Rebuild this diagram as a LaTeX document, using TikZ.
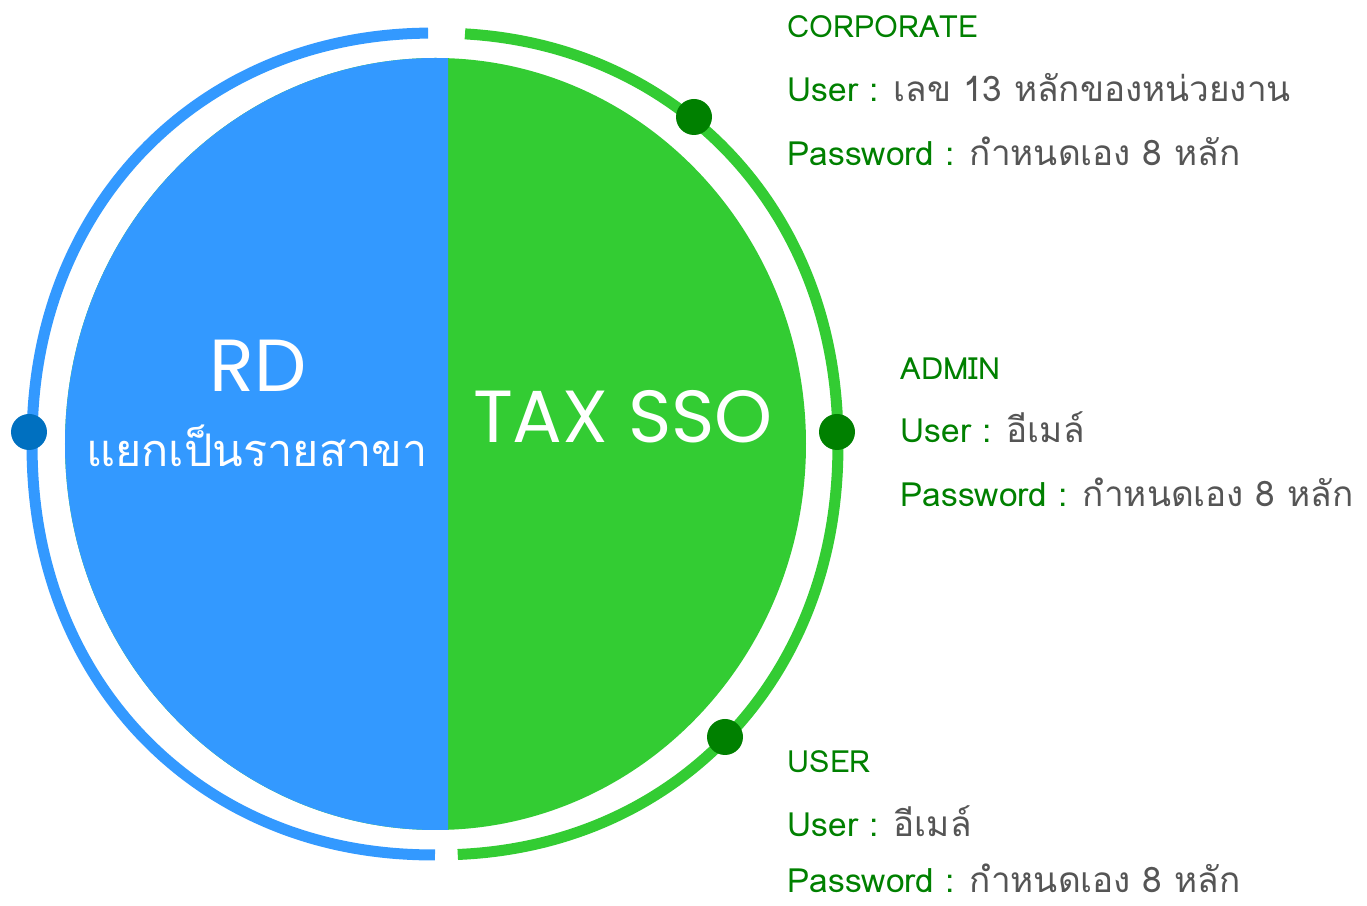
\documentclass[tikz,border=0pt]{standalone}
\usepackage{fontspec}
\setmainfont[Script=Thai]{Loma}
\newfontfamily\headfont{Poppins}
\usetikzlibrary{calc}
\definecolor{rdblue}{HTML}{3399FF}
\definecolor{ssogreen}{HTML}{33CC33}
\definecolor{dotblue}{HTML}{0070C0}
\definecolor{dotgreen}{HTML}{008000}
\definecolor{lblgreen}{HTML}{008000}
\definecolor{txtgray}{HTML}{555555}
\newcommand{\keytxt}[1]{\textcolor{lblgreen}{#1}}
\newcommand{\valtxt}[1]{\textcolor{txtgray}{\fontsize{10}{12}\selectfont #1}}

\begin{document}
\begin{tikzpicture}
   \tikzstyle{ringdot}=[circle, inner sep=0pt, minimum size=0.36cm]
   \tikzstyle{ring}=[line width=0.11cm]
   \tikzstyle{head}=[text=white, font=\headfont\fontsize{21}{24}\selectfont]
   \tikzstyle{lbl}=[anchor=base west, inner sep=0pt, font=\fontsize{9.5}{11}\selectfont]
   \tikzstyle{role}=[anchor=base west, inner sep=0pt, text=lblgreen, font=\fontsize{8.7}{10}\selectfont]
   \useasboundingbox (0, 0) rectangle (13.67, 9.06);

   % inner disc
   \fill[ssogreen] (4.355, 4.62) ellipse [x radius=3.705, y radius=3.86];
   \begin{scope}
      \clip (0, 0) rectangle (4.48, 9.06);
      \fill[rdblue] (4.355, 4.62) ellipse [x radius=3.705, y radius=3.86];
   \end{scope}

   % outer ring
   \draw[ring, rdblue] plot[domain=90.8:270, samples=100, smooth]
      ({4.35+4.03*cos(\x)*(abs(cos(\x))+0.0001)^(-0.048)}, {4.62+4.11*sin(\x)*(abs(sin(\x))+0.0001)^(-0.048)});
   \draw[ring, ssogreen] plot[domain=-87.2:86.25, samples=100, smooth]
      ({4.35+4.03*cos(\x)*(abs(cos(\x))+0.0001)^(-0.048)}, {4.62+4.11*sin(\x)*(abs(sin(\x))+0.0001)^(-0.048)});

   % ring dots
   \draw (0.29, 4.74) node[ringdot, fill=dotblue] (drd) {};
   \draw (6.94, 7.89) node[ringdot, fill=dotgreen] (dcorp) {};
   \draw (8.37, 4.74) node[ringdot, fill=dotgreen] (dadmin) {};
   \draw (7.25, 1.69) node[ringdot, fill=dotgreen] (duser) {};

   % disc texts
   \draw (2.58, 5.40) node[head] (rd) {RD};
   \draw (2.57, 4.39) node[anchor=base, text=white, font=\fontsize{12.8}{15}\selectfont] (rdsub) {แยกเป็นรายสาขา};
   \draw (6.23, 4.89) node[head] (taxsso) {TAX SSO};

   % CORPORATE
   \draw (7.87, 8.68) node[role] (corp) {CORPORATE};
   \draw (7.87, 8.04) node[lbl] (corpuser) {\keytxt{User :} \valtxt{เลข 13 หลักของหน่วยงาน}};
   \draw (7.87, 7.40) node[lbl] (corppass) {\keytxt{Password :} \valtxt{กำหนดเอง 8 หลัก}};
   % ADMIN
   \draw (9.00, 5.26) node[role] (admin) {ADMIN};
   \draw (9.00, 4.63) node[lbl] (adminuser) {\keytxt{User :} \valtxt{อีเมล์}};
   \draw (9.00, 3.99) node[lbl] (adminpass) {\keytxt{Password :} \valtxt{กำหนดเอง 8 หลัก}};
   % USER
   \draw (7.87, 1.33) node[role] (usr) {USER};
   \draw (7.87, 0.69) node[lbl] (usruser) {\keytxt{User :} \valtxt{อีเมล์}};
   \draw (7.87, 0.13) node[lbl] (usrpass) {\keytxt{Password :} \valtxt{กำหนดเอง 8 หลัก}};
\end{tikzpicture}
\end{document}
